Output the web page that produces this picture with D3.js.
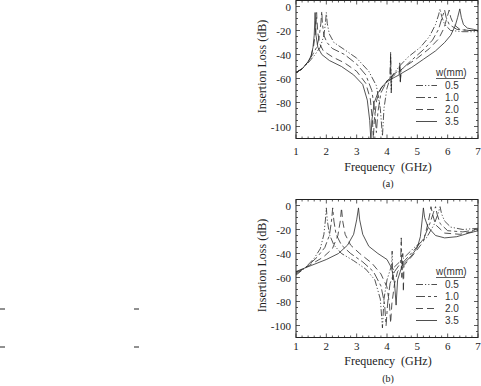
<!DOCTYPE html>
<html>
<head>
<meta charset="utf-8">
<script src="https://cdn.jsdelivr.net/npm/d3@7"></script>
<style>
  body { margin: 0; background: #fff; }
  svg { display: block; }
  .tick-label { font-family: "Liberation Serif", "Times New Roman", serif; font-size: 11px; fill: #222; }
  .axis-title { font-family: "Liberation Serif", "Times New Roman", serif; font-size: 12px; fill: #222; white-space: pre; }
  .legend-text { font-family: "Liberation Sans", Arial, sans-serif; font-size: 10px; fill: #333; }
</style>
</head>
<body>
<svg width="481" height="386"></svg>
<script>
// tick values and legend labels
let freqTicks = [1, 2, 3, 4, 5, 6, 7];
let lossTicks = [0, -20, -40, -60, -80, -100];
let widthLabels = ["0.5", "1.0", "2.0", "3.5"];

// panel (a) - [frequency GHz, insertion loss dB]
let a05 = [[1.0,-55],[1.2,-52],[1.4,-47],[1.6,-41],[1.8,-34],[1.92,-24],[1.97,-14],[2.0,-5],[2.03,-14],[2.1,-23],[2.25,-30],[2.6,-36],[3.0,-43],[3.4,-54],[3.65,-66],[3.78,-85],[3.85,-108],[3.9,-85],[4.0,-68],[4.1,-60],[4.12,-38],[4.14,-72],[4.16,-58],[4.4,-50],[4.7,-42],[5.1,-34],[5.4,-25],[5.6,-15],[5.7,-7],[5.75,-2],[5.8,-8],[5.9,-15],[6.1,-20],[6.5,-21],[7.0,-21]];
let a10 = [[1.0,-55],[1.2,-52],[1.4,-46],[1.55,-40],[1.68,-34],[1.76,-26],[1.82,-14],[1.85,-4],[1.87,-14],[1.92,-24],[2.02,-30],[2.2,-35],[2.6,-40],[3.0,-48],[3.3,-57],[3.5,-70],[3.6,-88],[3.65,-105],[3.7,-88],[3.8,-72],[4.0,-62],[4.2,-57],[4.4,-53],[4.42,-47],[4.44,-63],[4.46,-53],[4.8,-45],[5.2,-36],[5.5,-28],[5.7,-19],[5.82,-9],[5.9,-3],[5.95,-9],[6.05,-15],[6.3,-19],[6.7,-20],[7.0,-20]];
let a20 = [[1.0,-55],[1.2,-52],[1.4,-46],[1.5,-41],[1.58,-33],[1.64,-22],[1.67,-11],[1.68,-5],[1.69,-11],[1.72,-22],[1.78,-31],[1.9,-37],[2.2,-42],[2.6,-47],[3.0,-54],[3.3,-64],[3.45,-77],[3.52,-95],[3.55,-110],[3.58,-95],[3.66,-78],[3.8,-68],[4.0,-62],[4.1,-60],[4.12,-40],[4.14,-70],[4.16,-59],[4.3,-56],[4.6,-50],[5.0,-43],[5.4,-35],[5.7,-27],[5.88,-18],[5.98,-9],[6.05,-3],[6.1,-9],[6.2,-15],[6.4,-19],[6.7,-20],[7.0,-20]];
let a35 = [[1.0,-55],[1.2,-52],[1.4,-46],[1.5,-41],[1.56,-34],[1.6,-24],[1.62,-12],[1.63,-5],[1.64,-12],[1.66,-24],[1.72,-34],[1.85,-40],[2.1,-45],[2.5,-50],[2.9,-57],[3.2,-65],[3.35,-78],[3.43,-95],[3.47,-112],[3.5,-95],[3.58,-80],[3.7,-72],[3.9,-65],[4.1,-61],[4.4,-57],[4.42,-50],[4.44,-62],[4.46,-56],[4.8,-51],[5.2,-44],[5.6,-37],[5.9,-30],[6.1,-24],[6.25,-16],[6.33,-9],[6.4,-2],[6.45,-9],[6.52,-15],[6.65,-18],[6.85,-19],[7.0,-20]];

// panel (b)
let b05 = [[1.0,-58],[1.3,-52],[1.6,-44],[1.8,-36],[1.92,-24],[1.97,-12],[2.0,-2],[2.03,-12],[2.1,-24],[2.25,-33],[2.5,-40],[2.9,-46],[3.3,-53],[3.6,-62],[3.78,-78],[3.85,-102],[3.9,-78],[4.0,-62],[4.15,-50],[4.17,-38],[4.19,-62],[4.21,-52],[4.5,-45],[4.9,-35],[5.3,-27],[5.55,-16],[5.68,-7],[5.75,-1],[5.8,-7],[5.9,-13],[6.1,-18],[6.5,-20],[7.0,-19]];
let b10 = [[1.0,-57],[1.4,-50],[1.7,-43],[1.95,-35],[2.1,-25],[2.17,-13],[2.21,-2],[2.25,-13],[2.32,-24],[2.5,-33],[2.8,-40],[3.2,-47],[3.55,-55],[3.8,-67],[3.92,-82],[3.97,-100],[4.02,-82],[4.1,-65],[4.25,-55],[4.45,-48],[4.47,-27],[4.49,-60],[4.51,-48],[4.9,-37],[5.2,-28],[5.4,-16],[5.53,-6],[5.6,-1],[5.65,-7],[5.75,-15],[6.0,-21],[6.5,-22],[7.0,-20]];
let b20 = [[1.0,-56],[1.5,-49],[1.9,-43],[2.2,-36],[2.38,-25],[2.46,-13],[2.5,-2],[2.54,-13],[2.62,-24],[2.8,-33],[3.1,-40],[3.5,-48],[3.8,-57],[4.0,-68],[4.08,-82],[4.12,-98],[4.16,-82],[4.25,-65],[4.35,-55],[4.5,-50],[4.52,-40],[4.54,-72],[4.56,-50],[4.9,-40],[5.2,-30],[5.35,-15],[5.42,-6],[5.45,-1],[5.5,-7],[5.6,-16],[5.9,-23],[6.4,-24],[7.0,-21]];
let b35 = [[1.0,-55],[1.5,-50],[2.0,-45],[2.4,-40],[2.7,-33],[2.9,-24],[3.0,-12],[3.06,-2],[3.1,-12],[3.2,-24],[3.4,-34],[3.7,-40],[4.0,-45],[4.15,-52],[4.25,-65],[4.3,-83],[4.35,-62],[4.5,-50],[4.8,-42],[5.0,-35],[5.1,-26],[5.16,-12],[5.2,-2],[5.24,-10],[5.35,-18],[5.6,-25],[5.9,-27],[6.3,-26],[6.7,-23],[7.0,-21]];

let dashes = ["7,2,1.2,2,1.2,2", "9,3,3,3", "7,4", null];

let svg = d3.select("svg");

function panel(top, seriesList, caption, tickGap, titleGap, captionGap) {
    let margin = { left: 296, right: 478, top: top, bottom: top + 138 };
    let g = svg.append("g");

    let x = d3.scaleLinear().domain([1, 7]).range([margin.left, margin.right]);
    let y = d3.scaleLinear().domain([-110, 5]).range([margin.bottom, margin.top]);

    let clipId = "clip" + Math.round(top);
    g.append("clipPath").attr("id", clipId)
      .append("rect")
        .attr("x", margin.left).attr("y", margin.top)
        .attr("width", margin.right - margin.left).attr("height", margin.bottom - margin.top);

    // minor + major ticks, pointing inward on all four sides
    let xMinor = d3.range(1, 7.001, 0.2);
    let yMinor = d3.range(-110, 5.001, 5);
    let ticks = g.append("g").attr("stroke", "#333").attr("stroke-width", 0.8);
    xMinor.forEach(v => {
        let major = Math.abs(v - Math.round(v)) < 1e-6;
        let len = major ? 4 : 2;
        ticks.append("line").attr("x1", x(v)).attr("x2", x(v)).attr("y1", margin.bottom).attr("y2", margin.bottom - len);
        ticks.append("line").attr("x1", x(v)).attr("x2", x(v)).attr("y1", margin.top).attr("y2", margin.top + len);
    });
    yMinor.forEach(v => {
        let major = v % 20 === 0;
        let len = major ? 4 : 2;
        ticks.append("line").attr("x1", margin.left).attr("x2", margin.left + len).attr("y1", y(v)).attr("y2", y(v));
        ticks.append("line").attr("x1", margin.right).attr("x2", margin.right - len).attr("y1", y(v)).attr("y2", y(v));
    });

    let line = d3.line()
        .x(d => x(d[0]))
        .y(d => y(d[1]));

    g.append("g").attr("clip-path", "url(#" + clipId + ")")
      .selectAll("path")
      .data(seriesList)
      .enter()
      .append("path")
        .attr("d", d => line(d))
        .attr("fill", "none")
        .attr("stroke", "#2a2a2a")
        .attr("stroke-width", 0.8)
        .attr("stroke-dasharray", (d, i) => dashes[i]);

    g.append("rect")
        .attr("x", margin.left).attr("y", margin.top)
        .attr("width", margin.right - margin.left).attr("height", margin.bottom - margin.top)
        .attr("fill", "none").attr("stroke", "#222").attr("stroke-width", 1);

    g.selectAll(".xl").data(freqTicks).enter().append("text")
        .classed("tick-label", true)
        .attr("x", d => x(d)).attr("y", margin.bottom + tickGap)
        .attr("text-anchor", "middle")
        .text(d => d);

    g.selectAll(".yl").data(lossTicks).enter().append("text")
        .classed("tick-label", true)
        .attr("x", margin.left - 5).attr("y", d => y(d) + 4)
        .attr("text-anchor", "end")
        .text(d => d);

    g.append("text").classed("axis-title", true)
        .attr("transform", "translate(" + 266 + "," + (margin.top + 66) + ") rotate(-90)")
        .attr("text-anchor", "middle")
        .text("Insertion Loss (dB)");

    g.append("text").classed("axis-title", true)
        .attr("x", 388).attr("y", margin.top + titleGap)
        .attr("text-anchor", "middle")
        .text("Frequency  (GHz)");

    g.append("text").classed("axis-title", true)
        .style("font-size", "10px")
        .attr("x", 388).attr("y", margin.top + captionGap)
        .attr("text-anchor", "middle")
        .text(caption);

    // legend
    let lg = g.append("g");
    lg.append("text").classed("legend-text", true)
        .attr("x", 436).attr("y", margin.top + 75)
        .text("w(mm)");
    lg.append("line")
        .attr("x1", 436).attr("x2", 465)
        .attr("y1", margin.top + 78).attr("y2", margin.top + 78)
        .attr("stroke", "#333").attr("stroke-width", 0.8);
    widthLabels.forEach((w, i) => {
        let yy = margin.top + 85 + i * 12;
        lg.append("line")
            .attr("x1", 416).attr("x2", 437)
            .attr("y1", yy).attr("y2", yy)
            .attr("stroke", "#222").attr("stroke-width", 0.8)
            .attr("stroke-dasharray", dashes[i]);
        lg.append("text").classed("legend-text", true)
            .attr("x", 445).attr("y", yy + 3.5)
            .text(w);
    });
}

panel(0.5, [a05, a10, a20, a35], "(a)", 16, 170, 186);
panel(199.5, [b05, b10, b20, b35], "(b)", 12.5, 165.5, 182);

// stray marks on the left of the scan
let stray = svg.append("g").attr("stroke", "#222").attr("stroke-width", 1);
[[0, 309], [134, 309], [0, 347], [134, 347]].forEach(p => {
    stray.append("line").attr("x1", p[0]).attr("x2", p[0] + 5).attr("y1", p[1]).attr("y2", p[1]);
});
</script>
</body>
</html>
